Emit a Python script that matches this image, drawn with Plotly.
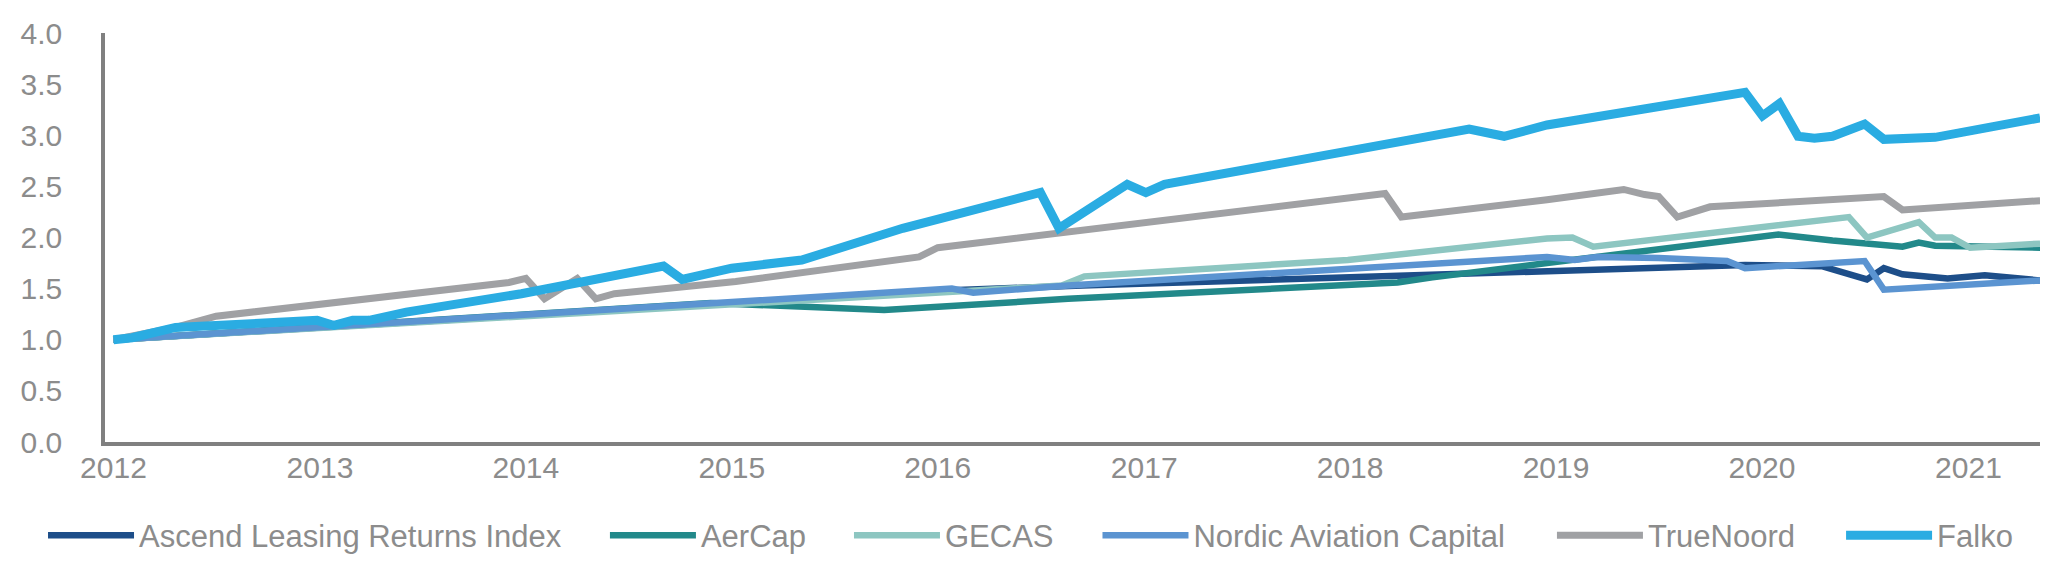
import plotly.graph_objects as go

# ---------------- data ----------------
ascend_x = ["2012-01-01", "2016-01-01", "2016-09-13", "2018-12-16", "2019-12-02", "2020-04-16",
            "2020-07-05", "2020-08-04", "2020-09-06", "2020-11-25", "2021-01-30", "2021-05-08"]
ascend_y = [1.00, 1.48, 1.53, 1.67, 1.73, 1.72, 1.59, 1.70, 1.64, 1.60, 1.63, 1.58]

aercap_x = ["2012-01-01", "2014-11-25", "2015-09-28", "2016-08-19", "2018-03-26", "2018-05-27",
            "2018-12-16", "2020-01-30", "2020-05-05", "2020-09-06", "2020-10-05", "2020-11-03", "2021-05-08"]
aercap_y = [1.00, 1.36, 1.29, 1.40, 1.56, 1.61, 1.75, 2.03, 1.97, 1.91, 1.95, 1.92, 1.90]

gecas_x = ["2012-01-01", "2016-08-08", "2016-09-17", "2017-12-28", "2018-12-16", "2019-01-30",
           "2019-03-08", "2020-06-03", "2020-07-05", "2020-10-05", "2020-11-03", "2020-12-02",
           "2021-01-04", "2021-05-08"]
gecas_y = [1.00, 1.53, 1.62, 1.78, 1.99, 2.00, 1.91, 2.20, 2.00, 2.15, 2.00, 2.00, 1.90, 1.94]

nac_x = ["2012-01-01", "2014-04-23", "2016-01-26", "2016-03-04", "2016-08-19", "2018-12-16",
         "2019-02-03", "2019-03-15", "2019-07-02", "2019-10-31", "2019-12-02", "2020-07-01",
         "2020-08-04", "2021-05-08"]
nac_y = [1.00, 1.28, 1.50, 1.46, 1.53, 1.81, 1.78, 1.81, 1.80, 1.77, 1.70, 1.77, 1.49, 1.58]

truenoord_x = ["2012-01-01", "2012-04-20", "2012-07-01", "2013-12-02", "2014-01-01", "2014-02-03",
               "2014-04-02", "2014-05-05", "2014-06-07", "2015-01-08", "2015-11-29", "2016-01-01",
               "2018-03-04", "2018-04-02", "2018-12-16", "2019-05-01", "2019-06-07", "2019-07-02",
               "2019-08-04", "2019-10-01", "2020-08-04", "2020-09-06", "2021-05-08"]
truenoord_y = [1.00, 1.12, 1.23, 1.56, 1.60, 1.40, 1.60, 1.40, 1.45, 1.57, 1.81, 1.90,
               2.43, 2.20, 2.37, 2.47, 2.42, 2.40, 2.20, 2.30, 2.40, 2.27, 2.36]

falko_x = ["2012-01-01", "2012-02-03", "2012-04-20", "2012-09-09", "2012-12-05", "2012-12-27",
           "2013-01-26", "2013-02-28", "2013-03-29", "2013-06-03", "2013-12-24", "2014-09-02",
           "2014-10-05", "2014-11-25", "2015-01-01", "2015-05-05", "2015-07-02", "2015-10-31",
           "2016-07-01", "2016-08-03", "2016-12-02", "2017-01-04", "2017-02-06", "2018-07-31",
           "2018-10-01", "2018-12-16", "2019-12-02", "2020-01-02", "2020-02-01", "2020-03-05",
           "2020-04-03", "2020-05-05", "2020-07-01", "2020-08-04", "2020-11-03", "2021-05-08"]
falko_y = [1.00, 1.02, 1.12, 1.17, 1.20, 1.19, 1.14, 1.19, 1.19, 1.27, 1.45, 1.72,
           1.59, 1.65, 1.70, 1.78, 1.88, 2.09, 2.44, 2.09, 2.52, 2.44, 2.52, 3.06,
           2.99, 3.10, 3.42, 3.19, 3.31, 2.99, 2.97, 2.99, 3.11, 2.96, 2.98, 3.17]

series_names = ["Ascend Leasing Returns Index", "AerCap", "GECAS",
                "Nordic Aviation Capital", "TrueNoord", "Falko"]
y_ticks = [0.0, 0.5, 1.0, 1.5, 2.0, 2.5, 3.0, 3.5, 4.0]
x_tick_labels = ["2012", "2013", "2014", "2015", "2016", "2017", "2018", "2019", "2020", "2021"]

# ---------------- styling ----------------
colors = ["#1d4e89", "#22898a", "#8dc6c1", "#5b94d1", "#a0a1a4", "#2aace2"]
widths = [6.5, 6.5, 6.5, 6.5, 7, 9]
legend_x = [-0.0319, 0.2573, 0.3829, 0.5108, 0.7447, 0.8935]   # one legend box per series
xs = [ascend_x, aercap_x, gecas_x, nac_x, truenoord_x, falko_x]
ys = [ascend_y, aercap_y, gecas_y, nac_y, truenoord_y, falko_y]

axis_color = "#808080"
text_color = "#8c8c8c"
font_family = "Liberation Sans, Arial, sans-serif"

fig = go.Figure()
legend_layout = {}
for i, (name, x, y, c, w, lx) in enumerate(zip(series_names, xs, ys, colors, widths, legend_x)):
    key = "legend" if i == 0 else f"legend{i + 1}"
    fig.add_trace(go.Scatter(x=x, y=y, name=name, mode="lines",
                             line=dict(color=c, width=w), legend=key))
    legend_layout[key] = dict(orientation="h", x=lx, xanchor="left", y=-0.229, yanchor="middle",
                              font=dict(size=31, color=text_color, family=font_family),
                              itemwidth=86, bgcolor="rgba(0,0,0,0)", borderwidth=0)

fig.update_layout(
    width=2048, height=563,
    margin=dict(l=97, r=8, t=25, b=123),
    paper_bgcolor="white", plot_bgcolor="white",
    font=dict(family=font_family, size=30, color=text_color),
    showlegend=True,
    xaxis=dict(type="date", range=["2011-12-17", "2021-05-22"],
               tickmode="array",
               tickvals=[f"{t}-01-01" for t in x_tick_labels], ticktext=x_tick_labels,
               showline=True, linecolor=axis_color, linewidth=3.5,
               showgrid=False, zeroline=False, ticks="", ticklabelstandoff=-4,
               tickfont=dict(size=30, color=text_color)),
    yaxis=dict(range=[0, 4], tickmode="array", tickvals=y_ticks,
               ticktext=[f"{v:.1f}" for v in y_ticks],
               showline=True, linecolor=axis_color, linewidth=3.5,
               showgrid=False, zeroline=False, ticks="", ticklabelstandoff=33,
               tickfont=dict(size=30, color=text_color)),
    **legend_layout,
)

fig.write_html("out.html")
